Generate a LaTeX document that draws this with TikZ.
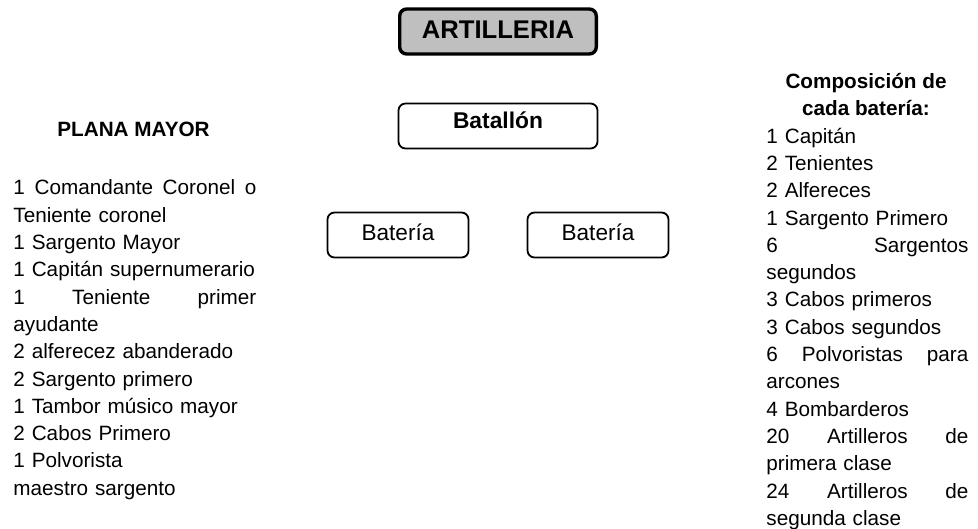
\documentclass[tikz,border=0pt]{standalone}
\usepackage{fontspec}
\setmainfont{Liberation Sans}
\usetikzlibrary{positioning}
\setlength{\parindent}{0pt}

\begin{document}
\begin{tikzpicture}[x=0.5pt,y=-0.5pt,
        caja/.style={draw,rounded corners=3.5pt,line width=0.9pt,inner sep=0pt,minimum width=70.5pt,minimum height=22.5pt,font=\fontsize{11.3}{13}\selectfont,text depth=3pt},
        lista/.style={anchor=north west,inner sep=0pt,align=left,font=\fontsize{10.35}{13.65}\selectfont},
        titulo/.style={inner sep=0pt,align=center,font=\bfseries\fontsize{10.35}{13.9}\selectfont}]
        \useasboundingbox (0,0) rectangle (978,529);
        \node[caja,fill=gray!50,line width=1.7pt,minimum width=98.3pt,minimum height=22.5pt,font=\bfseries\fontsize{12.8}{15}\selectfont,text depth=2pt] (artilleria) at (498,31.5) {ARTILLERIA};
        \node[caja,minimum width=99.5pt,font=\bfseries\fontsize{11.4}{13}\selectfont,text depth=6pt] (batallon) at (498,126) {Batallón};
        \node[caja] (bateriaA) at (398,235) {Batería};
        \node[caja] (bateriaB) at (598,235) {Batería};
        % plana mayor
        \node[titulo] (plana) at (133.5,129) {PLANA MAYOR};
        \node[lista,text width=121.5pt] (planalista) at (13,179.5) {1\hfill Comandante\hfill Coronel\hfill o\\
            Teniente coronel\\
            1 Sargento Mayor\\
            1 Capitán supernumerario\\
            1\hfill Teniente\hfill primer\\
            ayudante\\
            2 alferecez abanderado\\
            2 Sargento primero\\
            1 Tambor músico mayor\\
            2 Cabos Primero\\
            1 Polvorista\\
            maestro sargento};
        % cada bateria
        \node[titulo,anchor=north] (composicion) at (866,72.5) {Composición de\\cada batería:};
        \node[lista,text width=101pt] (bateriaLista) at (766,127.5) {1 Capitán\\
            2 Tenientes\\
            2 Alfereces\\
            1 Sargento Primero\\
            6\hfill Sargentos\\
            segundos\\
            3 Cabos primeros\\
            3 Cabos segundos\\
            6\hfill Polvoristas\hfill para\\
            arcones\\
            4 Bombarderos\\
            20\hfill Artilleros\hfill de\\
            primera clase\\
            24\hfill Artilleros\hfill de\\
            segunda clase};
    \end{tikzpicture}
\end{document}
